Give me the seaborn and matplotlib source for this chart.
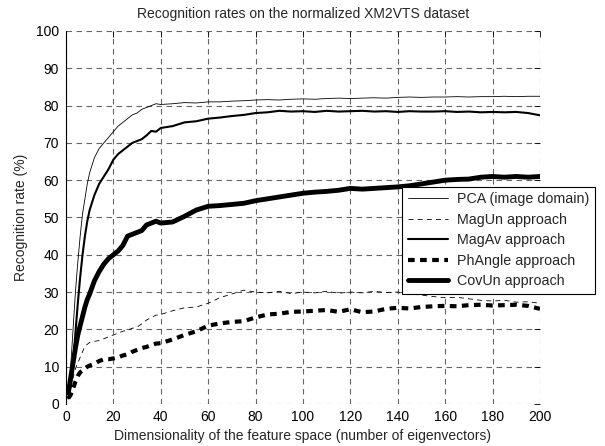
import matplotlib
matplotlib.use("Agg")
import matplotlib.pyplot as plt
import seaborn as sns
import pandas as pd

x = [1, 2, 3, 4, 5, 6, 7, 8, 9, 10,
     12, 14, 16, 18, 20, 22, 24, 26, 28, 30, 32, 34, 36, 38, 40,
     45, 50, 55, 60, 65, 70, 75, 80, 85, 90, 95, 100, 105, 110, 115, 120,
     125, 130, 135, 140, 145, 150, 155, 160, 165, 170, 175, 180, 185, 190, 195, 200]

pca = [3, 10, 20, 30, 38, 45, 51, 55, 59, 62,
       66, 68.5, 70, 71.5, 73, 74.5, 75.5, 76.5, 77.5, 78, 79, 79.5, 80, 80.5, 80.3,
       80.5, 80.8, 80.7, 81, 81, 81.2, 81.3, 81.5, 81.6, 81.5, 81.7, 81.8, 81.7, 81.9, 82, 81.9,
       82, 82.1, 82, 82.2, 82.3, 82.2, 82.3, 82.3, 82.4, 82.3, 82.4, 82.4, 82.5, 82.4, 82.5, 82.5]

magun = [2, 4, 7, 9.5, 11, 12.5, 14, 15.5, 16, 16.5,
         16.8, 17, 17.5, 18, 18.5, 19, 19.5, 19.8, 20.3, 20.6, 21.5, 22.5, 23.2, 23.8, 24,
         25, 25.8, 26, 27, 28.5, 29.5, 30.5, 30, 29.8, 30.2, 29.6, 30, 29.8, 30.2, 29.7, 30,
         29.8, 30.2, 29.9, 30, 29.5, 29.2, 28.8, 28.5, 28.6, 28.2, 27.8, 27.6, 27.8, 27.3, 27.4, 27]

magav = [1.5, 5, 11, 19, 27, 34, 40, 45, 49, 52,
         56, 59, 61, 63, 65.5, 67, 68, 69, 70, 70.5, 71, 72, 73.2, 73, 74,
         74.5, 75.5, 75.8, 76.5, 76.8, 77.2, 77.5, 78, 78.2, 78.6, 78.4, 78.5, 78.3, 78.6, 78.4, 78.5,
         78.6, 78.4, 78.5, 78.3, 78.5, 78.4, 78.4, 78.5, 78.3, 78.4, 78.2, 78.3, 78.2, 78.3, 78.0, 77.4]

phangle = [1.5, 2.5, 4, 6, 7.5, 8.5, 9, 9.5, 10, 10.3,
           10.8, 11.5, 12, 12, 12.2, 12.5, 13, 13.3, 14, 14.5, 15, 15.3, 15.8, 16.2, 16.3,
           17.3, 18.5, 19.5, 21, 21.6, 22, 22.2, 23.2, 24, 24.2, 24.7, 24.8, 25, 25.2, 24.7, 25.4,
           24.6, 24.8, 25.5, 25.8, 25.6, 26, 26.2, 26.3, 26.2, 26.5, 26.6, 26.4, 26.5, 26.6, 26.3, 25.5]

covun = [3, 7, 11, 15, 18.5, 21, 23.5, 26, 28, 29.5,
         33, 35.5, 37.5, 39, 40, 41, 42.5, 45, 45.5, 46, 46.5, 48, 48.5, 49, 48.5,
         48.8, 50.3, 52, 53, 53.2, 53.5, 53.8, 54.5, 55, 55.5, 56, 56.5, 56.8, 57, 57.3, 57.8,
         57.6, 57.8, 58, 58.2, 58.5, 59, 59.5, 60, 60.2, 60.3, 60.8, 61, 60.8, 61, 60.8, 61]

labels = ["PCA (image domain)", "MagUn approach", "MagAv approach",
          "PhAngle approach", "CovUn approach"]

sns.set_style("white")
plt.rcParams["font.family"] = ["Liberation Sans", "DejaVu Sans"]
plt.rcParams["font.size"] = 10

fig = plt.figure(figsize=(6.05, 4.46), dpi=100)
ax = fig.add_axes([0.1090, 0.0942, 0.7835, 0.8363])

series = [pca, magun, magav, phangle, covun]
widths = [0.6, 0.6, 1.5, 3.0, 3.5]
dashes = [None, (6, 5), None, (1.6, 1.3), None]

for vals, lab, lw, d in zip(series, labels, widths, dashes):
    df = pd.DataFrame({"x": x, "y": vals})
    sns.lineplot(data=df, x="x", y="y", ax=ax, color="black", linewidth=lw,
                 label=lab, legend=False)
    line = ax.lines[-1]
    if d is not None:
        line.set_dashes(d)
        line.set_dash_capstyle("butt")

ax.set_xlim(0, 200)
ax.set_ylim(0, 100)
ax.set_xticks(range(0, 201, 20))
ax.set_yticks(range(0, 101, 10))
ax.grid(True, color="0.4", linestyle=(0, (5, 4)), linewidth=0.8)
ax.set_axisbelow(True)
for s in ["top", "right", "bottom"]:
    ax.spines[s].set_visible(False)
ax.spines["left"].set_color("black")
ax.spines["left"].set_linewidth(0.8)
ax.tick_params(direction="in", length=4, width=0.6, top=True, right=True,
               labelsize=10, colors="black")
ax.tick_params(axis="y", pad=5)
ax.tick_params(axis="x", pad=4)

ax.set_title("Recognition rates on the normalized XM2VTS dataset", fontsize=10, pad=9)
ax.set_xlabel("Dimensionality of the feature space (number of eigenvectors)", fontsize=10, labelpad=4)
ax.set_ylabel("Recognition rate (%)", fontsize=10, labelpad=6)

handles = ax.lines[:5]
leg = ax.legend(handles, labels, loc="upper left", bbox_to_anchor=(0.709, 0.583),
                borderaxespad=0, frameon=True, fancybox=False, edgecolor="black",
                framealpha=1, handlelength=2.8, handletextpad=0.65, labelspacing=0.45,
                borderpad=0.4, fontsize=10.3)
leg.get_frame().set_linewidth(0.8)
leg.set_clip_on(False)

fig.savefig("out.png", dpi=100)
